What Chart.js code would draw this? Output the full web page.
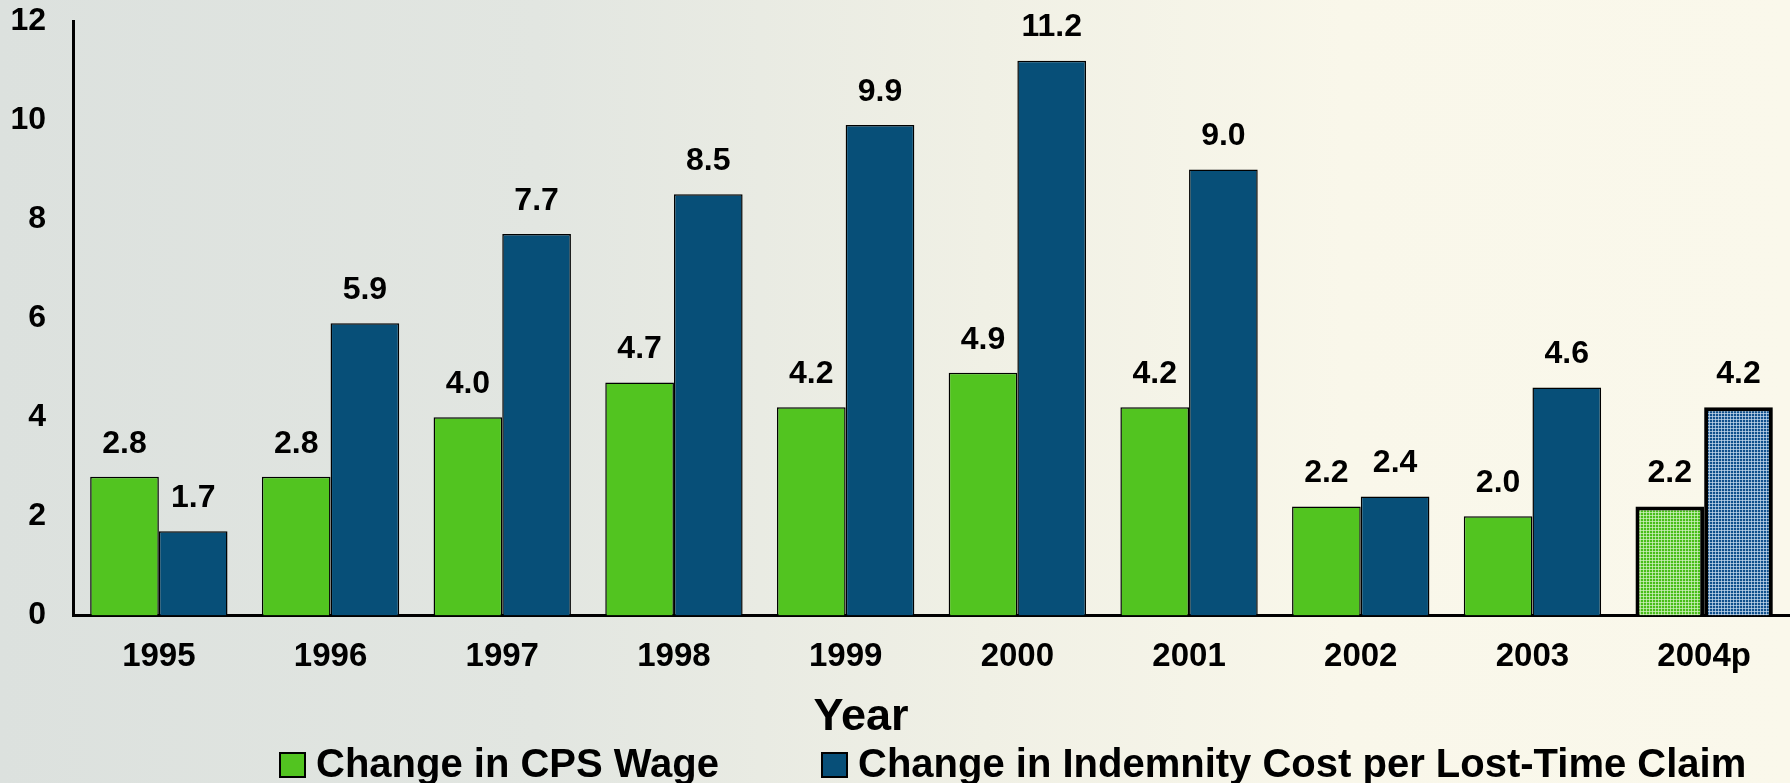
<!DOCTYPE html>
<html>
<head>
<meta charset="utf-8">
<script src="https://cdn.jsdelivr.net/npm/chart.js@4/dist/chart.umd.min.js"></script>
<style>
  html, body { margin: 0; padding: 0; }
  body {
    width: 1790px; height: 783px; overflow: hidden;
    background: linear-gradient(90deg, #dce1de 0%, #e2e6e1 30%, #f0f0e5 55%, #f9f7ea 75%, #faf8eb 100%);
  }
  canvas { display: block; }
</style>
</head>
<body>
<canvas id="wageChart" width="1790" height="783"></canvas>
<script>
const years = ['1995', '1996', '1997', '1998', '1999', '2000', '2001', '2002', '2003', '2004p'];
const cpsWage = [2.8, 2.8, 4.0, 4.7, 4.2, 4.9, 4.2, 2.2, 2.0, 2.2];
const indemnityCost = [1.7, 5.9, 7.7, 8.5, 9.9, 11.2, 9.0, 2.4, 4.6, 4.2];
const yMax = 12;
const yStep = 2;

const green = 'rgb(82, 196, 32)';
const blue = 'rgb(7, 79, 120)';
const font = '"Liberation Sans", Arial, sans-serif';

// the projected year (2004p) is drawn with a hatched fill
function makePattern(base, line) {
  const c = document.createElement('canvas');
  c.width = 3; c.height = 3;
  const g = c.getContext('2d');
  g.fillStyle = base;
  g.fillRect(0, 0, 3, 3);
  g.fillStyle = line;
  g.fillRect(0, 2, 3, 1);
  g.fillRect(2, 0, 1, 3);
  return g.createPattern(c, 'repeat');
}
const greenHatch = makePattern('rgb(72, 190, 25)', 'rgba(215, 242, 200, 0.7)');
const blueHatch = makePattern('rgb(15, 80, 140)', 'rgba(205, 222, 240, 0.7)');

const isProjected = years.map(y => y.endsWith('p'));

const valueLabels = {
  id: 'valueLabels',
  afterDatasetsDraw(chart) {
    const ctx = chart.ctx;
    ctx.save();
    ctx.font = 'bold 32px ' + font;
    ctx.fillStyle = '#000';
    ctx.textAlign = 'center';
    ctx.textBaseline = 'middle';
    chart.data.datasets.forEach((ds, i) => {
      chart.getDatasetMeta(i).data.forEach((bar, j) => {
        ctx.fillText(ds.data[j].toFixed(1), bar.x, bar.y - 33);
      });
    });
    ctx.restore();
  }
};

const bottomLegend = {
  id: 'bottomLegend',
  afterDraw(chart) {
    const ctx = chart.ctx;
    ctx.save();
    ctx.fillStyle = '#000';
    ctx.textBaseline = 'alphabetic';
    ctx.textAlign = 'center';
    ctx.font = 'bold 45px ' + font;
    ctx.fillText('Year', 861, 730);

    ctx.textAlign = 'left';
    ctx.font = 'bold 40px ' + font;
    const items = [
      { x: 280, color: green, text: chart.data.datasets[0].label },
      { x: 822, color: blue, text: chart.data.datasets[1].label }
    ];
    items.forEach(it => {
      ctx.fillStyle = it.color;
      ctx.fillRect(it.x, 753, 25, 24);
      ctx.strokeStyle = '#000';
      ctx.lineWidth = 2;
      ctx.strokeRect(it.x, 753, 25, 24);
      ctx.fillStyle = '#000';
      ctx.fillText(it.text, it.x + 36, 777);
    });
    ctx.restore();
  }
};

new Chart(document.getElementById('wageChart').getContext('2d'), {
  type: 'bar',
  data: {
    labels: years,
    datasets: [{
      label: 'Change in CPS Wage',
      data: cpsWage,
      backgroundColor: isProjected.map(p => p ? greenHatch : green),
      borderColor: '#000',
      borderWidth: isProjected.map(p => p ? 4 : 1.5)
    }, {
      label: 'Change in Indemnity Cost per Lost-Time Claim',
      data: indemnityCost,
      backgroundColor: isProjected.map(p => p ? blueHatch : blue),
      borderColor: '#000',
      borderWidth: isProjected.map(p => p ? 4 : 1.5)
    }]
  },
  options: {
    responsive: false,
    animation: false,
    layout: { padding: { left: 0, right: 0, top: 21, bottom: 84 } },
    categoryPercentage: 0.8,
    barPercentage: 1.0,
    plugins: {
      legend: { display: false },
      tooltip: { enabled: false }
    },
    scales: {
      x: {
        grid: { display: false, drawTicks: false },
        border: { display: true, color: '#000', width: 3 },
        ticks: {
          color: '#000',
          padding: 22,
          font: { family: font, size: 33, weight: 'bold' }
        }
      },
      y: {
        min: 0,
        max: yMax,
        grid: { display: false, drawTicks: false },
        border: { display: true, color: '#000', width: 3 },
        afterFit(scale) {
          scale.width = 73;
          scale.paddingTop = 0;
        },
        ticks: {
          stepSize: yStep,
          color: '#000',
          padding: 27,
          font: { family: font, size: 32, weight: 'bold' }
        }
      }
    }
  },
  plugins: [valueLabels, bottomLegend]
});
</script>
</body>
</html>
